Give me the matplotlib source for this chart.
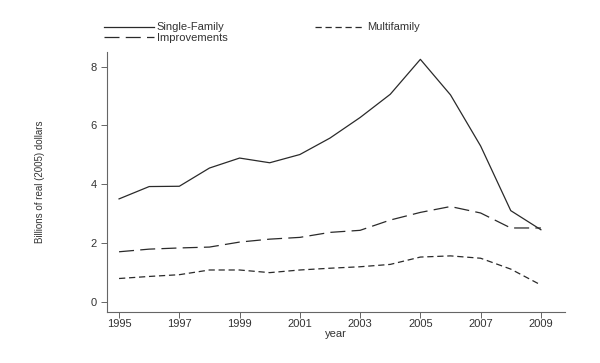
import matplotlib
matplotlib.use("Agg")
import matplotlib.pyplot as plt

years = list(range(1995, 2010))
single_family = [3.50, 3.92, 3.93, 4.55, 4.89, 4.73, 5.01, 5.57, 6.27, 7.06, 8.25, 7.04, 5.30, 3.10, 2.45]
improvements = [1.70, 1.79, 1.83, 1.86, 2.03, 2.13, 2.19, 2.36, 2.43, 2.78, 3.04, 3.24, 3.02, 2.51, 2.51]
multifamily = [0.79, 0.86, 0.92, 1.08, 1.08, 0.99, 1.08, 1.14, 1.19, 1.27, 1.52, 1.56, 1.48, 1.11, 0.57]
xticks = [1995, 1997, 1999, 2001, 2003, 2005, 2007, 2009]
yticks = [0, 2, 4, 6, 8]

plt.rcParams['font.family'] = ['Liberation Sans', 'DejaVu Sans']
txt = '#333333'
fig = plt.figure(figsize=(6, 3.63), dpi=100)
ax = fig.add_axes([107/600, 1-312/363, 458/600, 260/363])

lc = '#2a2a2a'
l1, = ax.plot(years, single_family, color=lc, lw=0.9, label='Single-Family')
l3, = ax.plot(years, improvements, color=lc, lw=0.9, dashes=(12, 5), label='Improvements')
l2, = ax.plot(years, multifamily, color=lc, lw=0.9, dashes=(5, 3), label='Multifamily')

ax.set_xlim(1994.6, 2009.8)
ax.set_ylim(-0.35, 8.5)
ax.set_xticks(xticks)
ax.set_yticks(yticks)
for s in ['top', 'right']:
    ax.spines[s].set_visible(False)
for s in ['left', 'bottom']:
    ax.spines[s].set_color('#666666')
    ax.spines[s].set_linewidth(0.8)
ax.tick_params(colors='#666666', labelcolor=txt, labelsize=8, length=4, width=0.7)
ax.tick_params(axis='x', pad=1)
ax.set_xlabel('year', fontsize=8, color=txt, labelpad=0)
fig.text(40/600, 1-182/363, 'Billions of real (2005) dollars', rotation=90,
         fontsize=7, color=txt, ha='center', va='center')

leg = fig.legend(handles=[l1, l3, l2], ncol=2, frameon=False, fontsize=8,
                 loc='upper left', bbox_to_anchor=(100/600, 1-18/363),
                 handlelength=4.5, handletextpad=0.2, columnspacing=7.9,
                 labelspacing=0.05, borderaxespad=0)
for t in leg.get_texts():
    t.set_color(txt)

fig.savefig('out.png', dpi=100)
